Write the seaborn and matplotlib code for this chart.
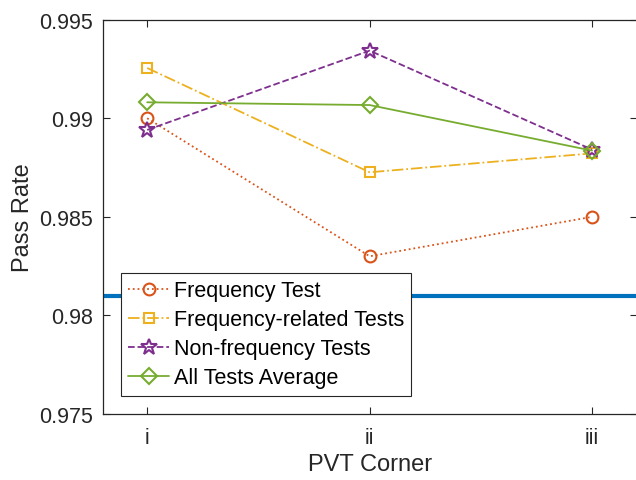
import matplotlib
matplotlib.use("Agg")
import matplotlib.pyplot as plt
import seaborn as sns
import pandas as pd

corners = ["i", "ii", "iii"]
positions = [1, 2, 3]
freq_test = [0.9900, 0.9830, 0.9850]
freq_related = [0.99255, 0.98726, 0.98822]
non_freq = [0.98941, 0.99343, 0.98841]
all_avg = [0.99081, 0.99067, 0.98836]
threshold = 0.981

series_names = ["Frequency Test", "Frequency-related Tests",
                "Non-frequency Tests", "All Tests Average"]
series_values = [freq_test, freq_related, non_freq, all_avg]
colors = ["#D95319", "#EDB120", "#7E2F8E", "#77AC30"]
markers = ["o", "s", "*", "D"]
msizes = [8.5, 7.5, 12, 8]
linestyles = [":", "-.", "--", "-"]

sns.set_theme(style="white")
plt.rcParams["font.family"] = ["Liberation Sans", "DejaVu Sans"]

fig = plt.figure(figsize=(6.36, 4.81), dpi=100)
ax = fig.add_axes([0.1615, 0.1372, 0.8394, 0.8198])

for name, vals, c, m, ms, ls in zip(series_names, series_values, colors,
                                    markers, msizes, linestyles):
    df = pd.DataFrame({"x": positions, "y": vals})
    sns.lineplot(data=df, x="x", y="y", ax=ax, color=c, marker=m,
                 markersize=ms, markerfacecolor="none", markeredgecolor=c,
                 markeredgewidth=1.5, linestyle=ls, linewidth=1.3,
                 label=name, legend=False)

leg = ax.legend(loc="lower left", bbox_to_anchor=(0.034, 0.046),
                borderaxespad=0, fontsize=15.5, frameon=True, fancybox=False,
                edgecolor="#262626", framealpha=1, handlelength=1.9,
                handletextpad=0.2, labelspacing=0.37, borderpad=0.35)
leg.get_frame().set_linewidth(0.8)
for t in leg.get_texts():
    t.set_color("black")

ax.axhline(threshold, color="#0072BD", linewidth=3, zorder=1.5)

ax.set_xlim(0.8, 3.2)
ax.set_ylim(0.975, 0.995)
ax.set_xticks(positions)
ax.set_xticklabels(corners)
ax.set_yticks([0.975, 0.98, 0.985, 0.99, 0.995])
ax.set_yticklabels(["0.975", "0.98", "0.985", "0.99", "0.995"])
ax.tick_params(direction="in", length=5, width=0.8, colors="#262626",
               labelsize=15.5, top=True, right=True, bottom=True, left=True)
ax.tick_params(axis="y", pad=7)
ax.tick_params(axis="x", pad=9)
for s in ax.spines.values():
    s.set_visible(True)
    s.set_color("#262626")
    s.set_linewidth(0.9)
ax.set_xlabel("PVT Corner", fontsize=17, color="#262626", labelpad=4)
ax.set_ylabel("Pass Rate", fontsize=17, color="#262626", labelpad=4)
ax.grid(False)

fig.savefig("out.png", dpi=100)
